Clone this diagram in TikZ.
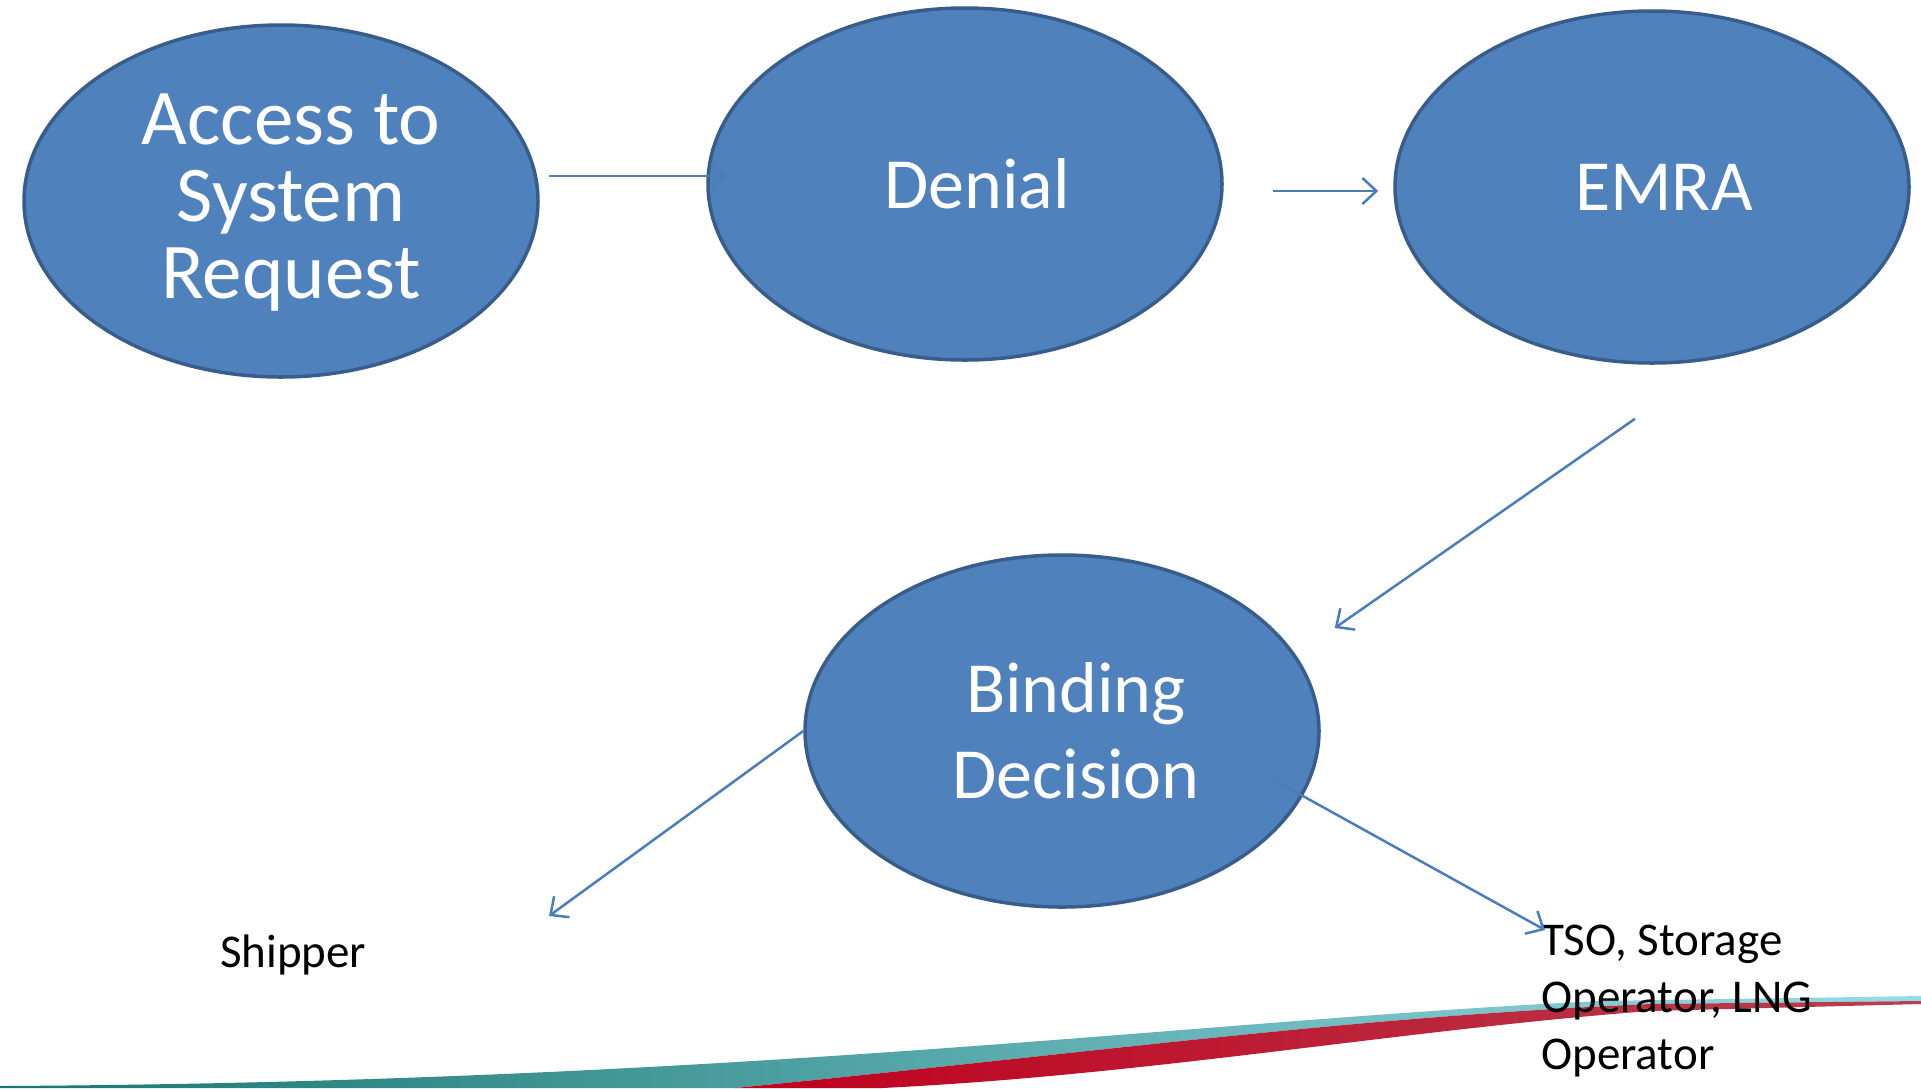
\documentclass[tikz,border=0pt]{standalone}
\usepackage{fontspec}
\setmainfont{Carlito}
\usetikzlibrary{shapes.geometric,arrows.meta,calc}
\definecolor{bfill}{HTML}{4F81BD}
\definecolor{bdraw}{HTML}{385D8A}
\definecolor{arrc}{HTML}{4A7EBB}
\definecolor{tealA}{HTML}{1A7670}
\definecolor{tealB}{HTML}{3FA3AB}
\definecolor{tealC}{HTML}{96DCE8}
\definecolor{redA}{HTML}{C0001E}
\definecolor{redB}{HTML}{DA1C30}
\definecolor{redC}{HTML}{B84050}
\begin{document}
\begin{tikzpicture}[x=1pt,y=-1pt,
  bubble/.style={ellipse,draw=bdraw,fill=bfill,line width=3.5pt,minimum width=514pt,minimum height=352pt,inner sep=0pt},
  btext/.style={text=white,align=center,inner sep=0pt},
  conn/.style={draw=arrc,line width=2.5pt,-{Straight Barb[length=14pt,width=26pt,line width=2.5pt]}},
  plaintext/.style={inner sep=0pt,align=left,font=\fontsize{47}{57}\selectfont}]
\useasboundingbox (0,0) rectangle (1921,1088);
% bottom swoosh
\shade[left color=tealA,middle color=tealB,right color=tealC]
  (0,1088) -- (0,1086) .. controls (750,1082) and (1200,1020) .. (1600,1001) -- (1921,996)
  -- (1921,1001) -- (1650,1004) .. controls (1350,1017) and (1100,1052) .. (735,1088) -- cycle;
\shade[left color=redA,middle color=redB,right color=redC]
  (735,1088) .. controls (1100,1052) and (1350,1017) .. (1650,1004) -- (1921,1001)
  -- (1921,1004) -- (1650,1011) .. controls (1400,1030) and (1150,1075) .. (882,1088) -- cycle;
% ellipses
\node[bubble] (e1) at (281,201) {};
\node[bubble] (e2) at (965,184) {};
\node[bubble] (e3) at (1652,187) {};
\node[bubble] (e4) at (1062,731) {};
\node[btext,font=\fontsize{79}{77}\selectfont] (t1) at ([xshift=10pt,yshift=-2pt]e1.center) {Access to\\System\\Request};
\node[btext,font=\fontsize{72}{86}\selectfont] (t2) at ([xshift=12pt]e2.center) {Denial};
\node[btext,font=\fontsize{72}{86}\selectfont] (t3) at ([xshift=12pt]e3.center) {EMRA};
\node[btext,font=\fontsize{72}{86}\selectfont] (t4) at ([xshift=14pt]e4.center) {Binding\\Decision};
% plain texts
\node[plaintext,anchor=base west] (ship) at (220,967) {Shipper};
\node[plaintext,anchor=north west] (tso) at (1541,925) {TSO, Storage\\Operator, LNG\\Operator};
% connectors
\draw[conn] ([xshift=9pt,yshift=25pt]e1.east) -- ([xshift=21pt,yshift=8pt]e2.west);
\draw[conn] ([xshift=49pt,yshift=-7pt]e2.east) -- ([xshift=-15pt,yshift=-4pt]e3.west);
\draw[conn] ([xshift=-17pt,yshift=-54pt]e3.south) -- ([xshift=14pt,yshift=103pt]e4.east);
\draw[conn] (e4.west) -- ([xshift=329pt,yshift=51pt]ship.base west);
\draw[conn] ([xshift=212pt,yshift=-49pt]e4.center) -- ([xshift=4pt,yshift=-5pt]tso.north west);
\end{tikzpicture}
\end{document}
